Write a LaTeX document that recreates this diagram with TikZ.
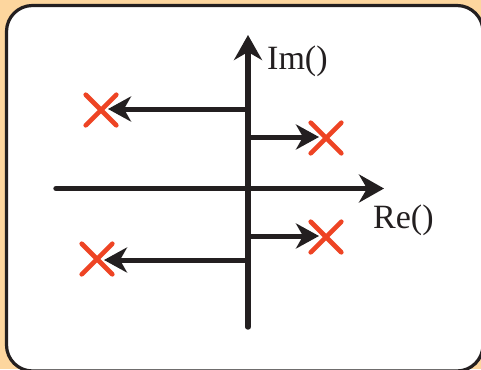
\documentclass[tikz,border=0pt]{standalone}
\usepackage{fontspec}
\setmainfont{Liberation Serif}
\usetikzlibrary{arrows.meta,shapes.misc}
\definecolor{peach}{RGB}{253,214,158}
\definecolor{ink}{RGB}{35,31,32}
\definecolor{polered}{RGB}{238,68,36}
\tikzset{
  axisline/.style={draw=ink,line width=5.4pt,line cap=round,-{Stealth[length=25pt,width=28pt,inset=8pt]}},
  shiftarrow/.style={draw=ink,line width=5pt,-{Stealth[length=23pt,width=25pt,inset=7pt]},shorten >=7pt},
  pole/.style={cross out,draw=polered,line width=4.6pt,line cap=round,minimum size=26pt,inner sep=0pt},
  axlabel/.style={font=\fontsize{34}{40}\selectfont,text=ink,inner sep=0pt}
}
\begin{document}
\begin{tikzpicture}[x=1pt,y=-1pt]
\useasboundingbox (0,0) rectangle (481,369);
\fill[peach] (0,0) rectangle (481,369);
\draw[ink,line width=3.2pt,fill=white,rounded corners=26pt] (6.5,5.5) rectangle (483,371);
% axes
\coordinate (vbot) at (248,327);
\coordinate (vtop) at (248,35);
\coordinate (hleft) at (56,188.5);
\coordinate (hright) at (384,188.5);
\draw[axisline] (vbot) -- (vtop);
\draw[axisline] (hleft) -- (hright);
\node[axlabel,anchor=base west] (im) at (267,70) {Im()};
\node[axlabel,anchor=base west] (re) at (373,228) {Re()};
% poles
\node[pole] (p1) at (101,110) {};
\node[pole] (p2) at (326,138) {};
\node[pole] (p3) at (326,237) {};
\node[pole] (p4) at (97,259) {};
% start points on the imaginary axis
\coordinate (s1) at (248,109);
\coordinate (s2) at (248,137);
\coordinate (s3) at (248,236);
\coordinate (s4) at (248,260);
\draw[shiftarrow] (s1) -- (p1.center |- s1);
\draw[shiftarrow] (s2) -- (p2.center |- s2);
\draw[shiftarrow] (s3) -- (p3.center |- s3);
\draw[shiftarrow] (s4) -- (p4.center |- s4);
\end{tikzpicture}
\end{document}
